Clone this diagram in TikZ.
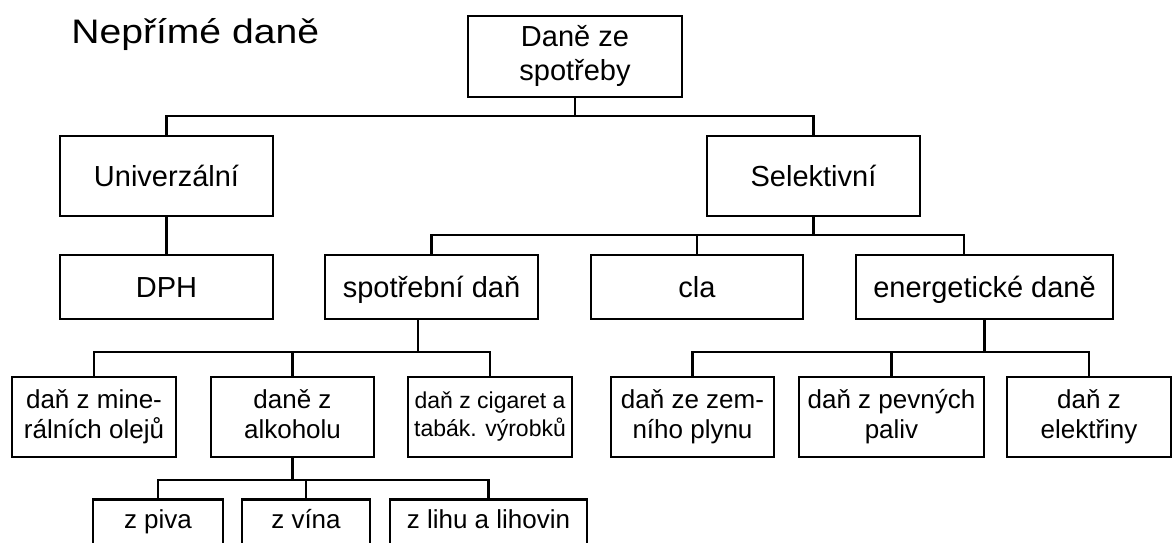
\documentclass[tikz,border=0pt]{standalone}
\usepackage{fontspec}
\setmainfont{Liberation Sans}
\newfontfamily\titlefont[FakeStretch=1.15]{Liberation Sans}
\usetikzlibrary{positioning}

\newcommand{\twolines}[2]{\strut#1\\\strut#2}

\begin{document}
\begin{tikzpicture}[
    x=1pt, y=-1pt,
    line width=2.6pt,
    every node/.style={inner sep=0pt, align=center},
    rootbox/.style={draw, font=\fontsize{29}{34}\selectfont},
    bigbox/.style={draw, text height=26, text depth=5, font=\fontsize{29}{34}\selectfont},
    leafbox/.style={draw, minimum height=80, font=\fontsize{26}{30}\selectfont},
    lastbox/.style={draw, anchor=north, inner ysep=3pt, text height=26, text depth=20,
                    font=\fontsize{26}{30}\selectfont},
  ]

  \useasboundingbox (0, 0) rectangle (1175, 542);
  \clip (0, 0) rectangle (1175, 542);

  % Nodes
  \node[anchor=base west, font=\titlefont\fontsize{34}{40}\selectfont]
       (title) at (70, 43) {Nepřímé daně};
  \node[rootbox, minimum width=214, minimum height=81]
       (root) at (575, 56.5) {\twolines{Daně ze}{spotřeby}};

  \node[bigbox, minimum width=213, minimum height=80] (univ) at (166.5, 176) {Univerzální};
  \node[bigbox, minimum width=213, minimum height=80] (sel)  at (813.5, 176) {Selektivní};

  \node[bigbox, minimum width=213, minimum height=64] (dph)  at (166.5, 287) {DPH};
  \node[bigbox, minimum width=213, minimum height=64] (spot) at (431.5, 287) {spotřební daň};
  \node[bigbox, minimum width=212, minimum height=64] (cla)  at (697, 287)   {cla};
  \node[bigbox, minimum width=257, minimum height=64] (ener) at (984.5, 287) {energetické daně};

  \node[leafbox, minimum width=164] (miner) at (94, 417)    {\twolines{daň z mine-}{rálních olejů}};
  \node[leafbox, minimum width=163] (alk)   at (292.5, 417) {\twolines{daně z}{alkoholu}};
  \node[leafbox, minimum width=164, font=\fontsize{23}{28}\selectfont]
       (cig)   at (490, 417)   {\twolines{daň z cigaret a}{tabák. výrobků}};
  \node[leafbox, minimum width=163] (plyn)  at (692.5, 417) {\twolines{daň ze zem-}{ního plynu}};
  \node[leafbox, minimum width=185] (paliv) at (891.5, 417) {\twolines{daň z pevných}{paliv}};
  \node[leafbox, minimum width=164] (elek)  at (1089, 417)  {\twolines{daň z}{elektřiny}};

  \node[lastbox, minimum width=130] (piva) at (158, 498)   {z piva};
  \node[lastbox, minimum width=128] (vina) at (306, 498)   {z vína};
  \node[lastbox, minimum width=197] (lihu) at (488.5, 498) {z lihu a lihovin};

  % Bus points
  \coordinate (b1) at (575, 116);
  \coordinate (b2) at (813.5, 235);
  \coordinate (b3) at (418, 352);
  \coordinate (b4) at (984.5, 352);
  \coordinate (b5) at (292.5, 480);

  % Edges
  \draw (root.south) -- (b1) -| (univ.north);
  \draw (b1) -| (sel.north);
  \draw (univ) -- (dph);

  \draw (sel.south) -- (b2) -| (spot.north);
  \draw (b2) -| (cla.north);
  \draw (b2) -| ([xshift=-20.5pt]ener.north);

  \draw ([xshift=-13.5pt]spot.south) -- (b3) -| (miner.north);
  \draw (b3) -| (alk.north);
  \draw (b3) -| (cig.north);

  \draw (ener.south) -- (b4) -| (plyn.north);
  \draw (b4) -| (paliv.north);
  \draw (b4) -| (elek.north);

  \draw (alk.south) -- (b5) -| (piva.north);
  \draw (b5) -| (vina.north);
  \draw (b5) -| (lihu.north);

\end{tikzpicture}
\end{document}
